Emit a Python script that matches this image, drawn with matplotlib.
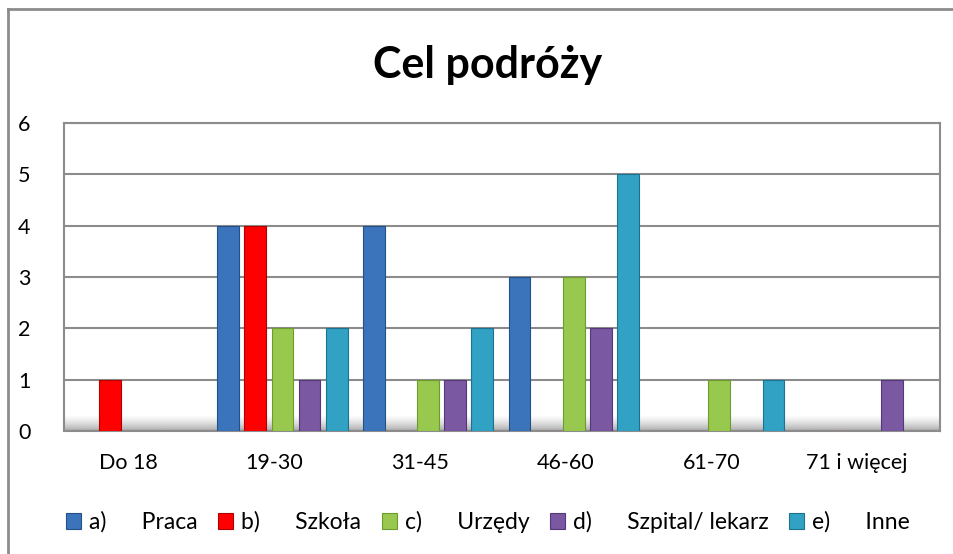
import matplotlib
matplotlib.use("Agg")
import matplotlib.pyplot as plt
from matplotlib.lines import Line2D
import numpy as np

categories = ["Do 18", "19-30", "31-45", "46-60", "61-70", "71 i więcej"]
series_names = ["a)      Praca", "b)      Szkoła", "c)      Urzędy", "d)      Szpital/ lekarz", "e)      Inne"]
praca = [0, 4, 4, 3, 0, 0]
szkola = [1, 4, 0, 0, 0, 0]
urzedy = [0, 2, 1, 3, 1, 0]
szpital = [0, 1, 1, 2, 0, 1]
inne = [0, 2, 2, 5, 1, 0]
yticks = [0, 1, 2, 3, 4, 5, 6]
title = "Cel podróży"

series = [praca, szkola, urzedy, szpital, inne]
colors = ["#3C74BC", "#FF0000", "#98C94E", "#7A58A2", "#31A2C4"]
edges = ["#24508A", "#B00000", "#6E9A30", "#54387A", "#1C7290"]

plt.rcParams['font.family'] = ['Lato', 'DejaVu Sans']

W, H = 954, 554
fig = plt.figure(figsize=(W / 100, H / 100), dpi=100)
ax = fig.add_axes([64 / W, 1 - 431 / H, (940 - 64) / W, (431 - 123) / H])

x = np.arange(len(categories))
spacing = 0.186
width = 0.15
for i, (vals, c, ec) in enumerate(zip(series, colors, edges)):
    offs = (i - 2) * spacing
    ax.bar(x + offs, vals, width, color=c, edgecolor=ec, linewidth=0.8, zorder=3,
           label=series_names[i])

ax.set_yticks(yticks)
ax.set_yticklabels([str(v) for v in yticks], fontsize=15.5)
ax.set_xticks(x - 0.055)
ax.set_xticklabels(categories, fontsize=15.5)
ax.tick_params(axis='both', length=0)
ax.tick_params(axis='y', pad=24)
ax.tick_params(axis='x', pad=16)
ax.grid(axis='y', color='#8C8C8C', linewidth=1.5, zorder=1)
for s in ax.spines.values():
    s.set_color('#8C8C8C')
    s.set_linewidth(1.5)

# floor shading (darker at the bottom, fading upward)
grad = np.linspace(0.45, 0.0, 60).reshape(-1, 1)
ax.imshow(grad, extent=(-0.5, 5.515, 0, 0.3), aspect='auto', cmap='Greys',
          vmin=0, vmax=1, zorder=2, origin='lower', interpolation='bilinear')
ax.set_xlim(-0.5, 5.515)
ax.set_ylim(0, 6)

fig.text(488 / W, 1 - 65 / H, title, fontsize=31, fontweight='bold', ha='center', va='center')

# outer frame
fig.add_artist(Line2D([8 / W, 8 / W], [0, 1 - 9 / H], color='#8C8C8C', linewidth=2))
fig.add_artist(Line2D([8 / W, 1], [1 - 9 / H, 1 - 9 / H], color='#8C8C8C', linewidth=2))

handles, labels = ax.get_legend_handles_labels()
leg = fig.legend(handles, labels, loc='center', bbox_to_anchor=(488 / W, 1 - 522 / H), ncol=5,
                 frameon=False, fontsize=16.5, handlelength=0.65, handleheight=0.65,
                 handletextpad=0.35, columnspacing=0.9)

fig.savefig("out.png", dpi=100)
